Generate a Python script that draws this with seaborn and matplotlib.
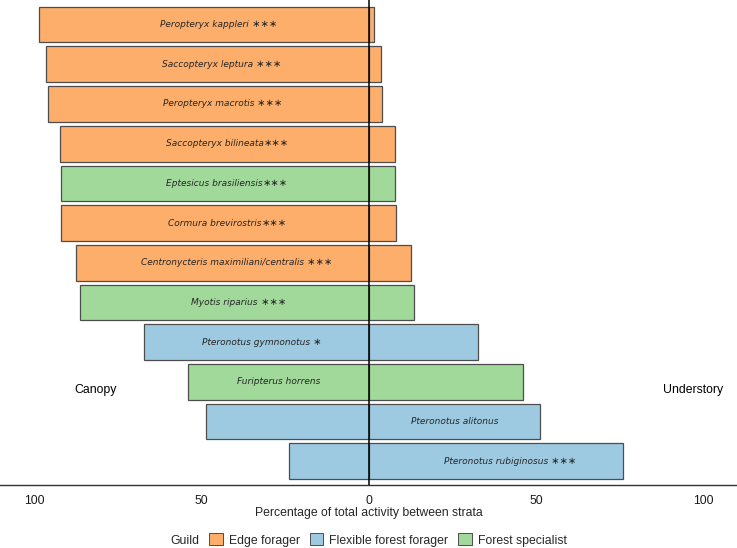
import numpy as np
import pandas as pd
import matplotlib
matplotlib.use("Agg")
import matplotlib.pyplot as plt
from matplotlib.patches import Patch
import seaborn as sns

species = [
    "Peropteryx kappleri", "Saccopteryx leptura", "Peropteryx macrotis",
    "Saccopteryx bilineata", "Eptesicus brasiliensis", "Cormura brevirostris",
    "Centronycteris maximiliani/centralis", "Myotis riparius",
    "Pteronotus gymnonotus", "Furipterus horrens", "Pteronotus alitonus",
    "Pteronotus rubiginosus",
]
stars = [" ∗∗∗", " ∗∗∗", " ∗∗∗", "∗∗∗", "∗∗∗", "∗∗∗", " ∗∗∗", " ∗∗∗", " ∗", "", "", " ∗∗∗"]
canopy = [98.5, 96.4, 96.0, 92.3, 92.2, 92.0, 87.5, 86.4, 67.3, 54.0, 48.7, 23.9]
understory = [1.5, 3.6, 4.0, 7.7, 7.8, 8.0, 12.5, 13.6, 32.7, 46.0, 51.3, 76.1]
guild = ["Edge forager", "Edge forager", "Edge forager", "Edge forager",
         "Forest specialist", "Edge forager", "Edge forager", "Forest specialist",
         "Flexible forest forager", "Forest specialist", "Flexible forest forager",
         "Flexible forest forager"]
guild_levels = ["Edge forager", "Flexible forest forager", "Forest specialist"]
guild_colors = ["#FDAE6B", "#9ECAE1", "#A1D99B"]
tick_values = [-100, -50, 0, 50, 100]
tick_labels = ["100", "50", "0", "50", "100"]

df = pd.DataFrame({"species": species, "canopy": canopy,
                   "understory": understory, "guild": guild})
df["neg_canopy"] = -df["canopy"]

sns.set_style("white")
plt.rcParams["font.family"] = ["Liberation Sans", "DejaVu Sans"]

fig = plt.figure(figsize=(7.37, 5.48), dpi=100)
ax = fig.add_axes([0.0, 1 - 485 / 548, 1.0, 485 / 548])

palette = dict(zip(guild_levels, guild_colors))
for col in ["neg_canopy", "understory"]:
    sns.barplot(data=df, x=col, y="species", hue="guild", hue_order=guild_levels,
                palette=palette, dodge=False, orient="h", width=0.9,
                edgecolor="#4d4d4d", linewidth=0.9, saturation=1, legend=False,
                order=species, ax=ax)

ax.axvline(0, color="black", lw=1.1, zorder=5)
ax.set_xlim(-110.3, 110.1)
ax.set_ylim(11.6, -0.62)

# labels: species name centered on half of dominant side, stars appended
can = np.array(canopy)
und = np.array(understory)
label_x = np.where(can >= und, -can / 2, und / 2)
for i, (name, st, lx) in enumerate(zip(species, stars, label_x)):
    t = ax.text(lx, i, name, ha="center", va="center", fontsize=6.5,
                family="DejaVu Sans", style="italic", color="#262626", zorder=6)
    if st:
        ax.annotate(st, xy=(1, 0.56), xycoords=t, ha="left", va="center",
                    fontsize=7.2, family="DejaVu Sans", color="#262626", zorder=6)

ax.text(-81.7, 9.2, "Canopy", ha="center", va="center", fontsize=8.8, color="black")
ax.text(97.0, 9.2, "Understory", ha="center", va="center", fontsize=8.8, color="black")

for s in ["left", "top", "right"]:
    ax.spines[s].set_visible(False)
ax.spines["bottom"].set_color("#333333")
ax.spines["bottom"].set_linewidth(1.0)
ax.set_yticks([])
ax.set_ylabel("")
ax.set_xticks(tick_values)
ax.set_xticklabels(tick_labels, fontsize=8.8, color="#1a1a1a")
ax.tick_params(axis="x", direction="out", length=3, width=2, color="#333333", pad=4)
ax.set_xlabel("")

fig.text(369 / 737, 1 - 513 / 548, "Percentage of total activity between strata",
         ha="center", va="center", fontsize=8.8)

fig.text(185 / 737, 1 - 540.5 / 548, "Guild", ha="center", va="center", fontsize=8.8)
handles = [Patch(facecolor=c, edgecolor="#4d4d4d", linewidth=0.7) for c in guild_colors]
fig.legend(handles, guild_levels, loc="center", bbox_to_anchor=(388 / 737, 1 - 540 / 548),
           ncol=3, frameon=False, fontsize=8.8, handlelength=1.1, handleheight=1.1,
           handletextpad=0.5, columnspacing=0.8, borderaxespad=0)

fig.savefig("out.png", dpi=100)
